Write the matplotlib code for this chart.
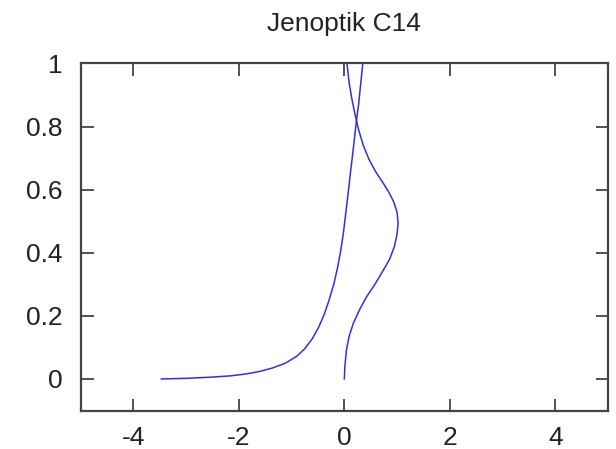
import matplotlib.pyplot as plt

plt.rcParams['font.family'] = ['Liberation Sans', 'DejaVu Sans']

# кривая 1 (слева внизу -> вверх)
x1 = [-3.47, -3.0, -2.5, -2.15, -1.86, -1.6, -1.36, -1.12, -0.91, -0.75, -0.61, -0.49,
      -0.38, -0.29, -0.2, -0.13, -0.07, -0.02, 0.03, 0.08, 0.12, 0.17, 0.22, 0.27, 0.31, 0.35]
y1 = [0.0, 0.002, 0.006, 0.01, 0.016, 0.024, 0.035, 0.05, 0.071, 0.096, 0.127, 0.163,
      0.205, 0.25, 0.3, 0.352, 0.405, 0.46, 0.53, 0.6, 0.66, 0.73, 0.805, 0.87, 0.935, 1.0]
# кривая 2 (выпуклость вправо)
x2 = [0.0, 0.01, 0.04, 0.09, 0.17, 0.29, 0.42, 0.58, 0.74, 0.86, 0.95, 1.0, 1.02,
      1.0, 0.94, 0.85, 0.74, 0.6, 0.47, 0.36, 0.27, 0.2, 0.14, 0.09, 0.05]
y2 = [0.0, 0.04, 0.092, 0.135, 0.176, 0.22, 0.26, 0.3, 0.345, 0.38, 0.42, 0.46, 0.493,
      0.528, 0.56, 0.59, 0.62, 0.655, 0.695, 0.74, 0.79, 0.84, 0.89, 0.94, 1.0]

xt = [-4, -2, 0, 2, 4]
yt = [0, 0.2, 0.4, 0.6, 0.8, 1]

fig = plt.figure(figsize=(6.16, 4.49), dpi=100)
ax = fig.add_axes([0.131, 0.0857, 0.856, 0.773])
ax.plot(x1, y1, color='#3030e0', lw=1.1)
ax.plot(x2, y2, color='#3030e0', lw=1.1)
ax.set_xlim(-5, 5)
ax.set_ylim(-0.1, 1)
ax.set_xticks(xt)
ax.set_xticklabels([f'{v:g}' for v in xt])
ax.set_yticks(yt)
ax.set_yticklabels([f'{v:g}' for v in yt])
ax.tick_params(direction='in', top=True, right=True, length=9, width=1.3,
               labelsize=19, colors='#444444', labelcolor='#222222')
ax.tick_params(axis='y', pad=13)
ax.tick_params(axis='x', pad=11)
for s in ax.spines.values():
    s.set_linewidth(1.6)
    s.set_color('#444444')
ax.set_title('Jenoptik C14', fontsize=19, pad=23, color='#222222')
fig.savefig('out.png')
